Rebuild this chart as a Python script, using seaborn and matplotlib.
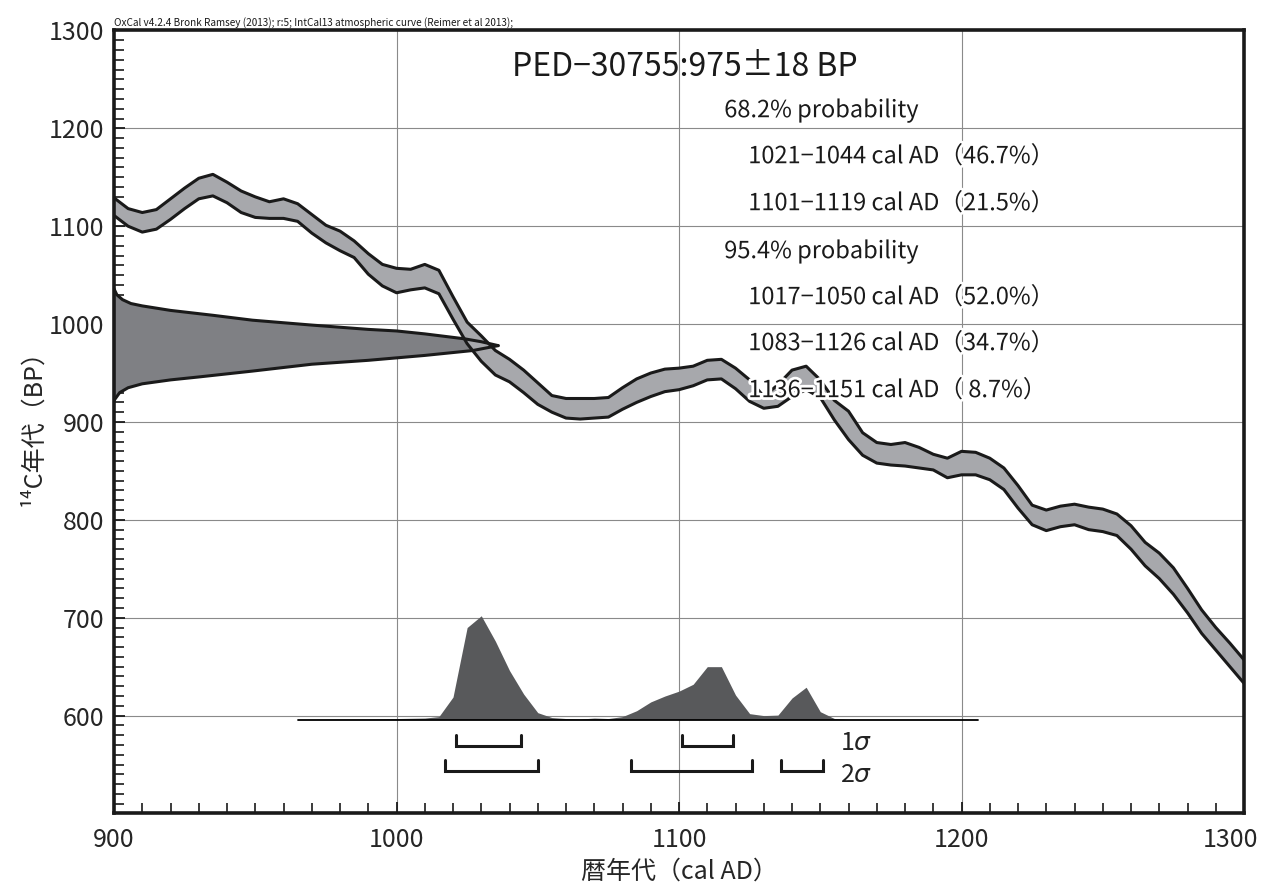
import matplotlib
matplotlib.use("Agg")
import matplotlib.pyplot as plt
import matplotlib.patheffects as pe
import matplotlib.transforms as mtransforms
from matplotlib.ticker import MultipleLocator
import seaborn as sns
import pandas as pd

# ---------------- data ----------------
cal_years = list(range(900, 1301, 5))
cal_upper = [1129, 1118, 1114, 1117, 1128, 1139, 1149, 1153, 1145, 1136,
             1130, 1125, 1128, 1123, 1112, 1101, 1095, 1085, 1072, 1061,
             1057, 1056, 1061, 1055, 1028, 1002, 988, 973, 964, 953,
             940, 927, 924, 924, 924, 925, 935, 944, 950, 954,
             955, 957, 963, 964, 955, 943, 926, 938, 953, 957,
             943, 922, 911, 889, 879, 877, 879, 874, 867, 863,
             870, 869, 863, 853, 835, 815, 810, 814, 816, 813,
             811, 806, 794, 777, 766, 751, 730, 708, 690, 674, 657]
cal_lower = [1111, 1100, 1094, 1097, 1107, 1118, 1128, 1131, 1124, 1114,
             1109, 1108, 1108, 1105, 1093, 1083, 1075, 1068, 1051, 1039,
             1032, 1035, 1037, 1031, 1005, 980, 962, 948, 941, 930,
             918, 910, 904, 903, 904, 905, 913, 920, 926, 931,
             933, 937, 943, 944, 934, 921, 914, 916, 926, 933,
             925, 902, 882, 866, 858, 856, 855, 853, 851, 843,
             846, 846, 841, 831, 812, 795, 789, 793, 795, 790,
             788, 784, 770, 753, 740, 724, 705, 684, 667, 650, 633]

# radiocarbon date distribution on the y axis (year reached, BP)
rc_upper_x = [900, 901, 903, 906, 910, 920, 935, 949, 970, 990, 1000, 1010, 1024, 1030, 1036]
rc_upper_y = [1036, 1030, 1025, 1021, 1018.6, 1014, 1009, 1004, 999, 994.6, 993, 990, 985, 982, 978]
rc_lower_x = [900, 902, 905, 910, 920, 930, 949, 970, 990, 1010, 1027, 1036]
rc_lower_y = [922, 930, 935, 939, 943, 946, 952, 959, 963, 968, 973, 978]

# calibrated distribution (height above its baseline, in BP units)
dist_baseline = 596
dist_years = [965, 990, 1000, 1010, 1015, 1020, 1025, 1030, 1035, 1040, 1045,
              1050, 1055, 1060, 1065, 1070, 1075, 1080, 1085, 1090, 1095,
              1100, 1105, 1110, 1115, 1120, 1125, 1130, 1135, 1140, 1145,
              1150, 1155, 1160, 1206]
dist_height = [0, 0.5, 1, 1.5, 3, 23, 94, 106, 80, 50, 26,
               7, 2, 1, 0.5, 1.5, 1, 3, 9, 18, 24,
               29, 36, 54, 54, 25, 6, 4, 4.5, 22, 33,
               8, 1, 0, 0]

sigma1_ranges = [(1021, 1044), (1101, 1119)]
sigma2_ranges = [(1017, 1050), (1083, 1126), (1136, 1151)]

title_text = "PED\u221230755:975\u00b118 BP"
prob_lines = ["68.2% probability",
              "1021\u22121044 cal AD\uff0846.7%\uff09",
              "1101\u22121119 cal AD\uff0821.5%\uff09",
              "95.4% probability",
              "1017\u22121050 cal AD\uff0852.0%\uff09",
              "1083\u22121126 cal AD\uff0834.7%\uff09",
              "1136\u22121151 cal AD\uff08 8.7%\uff09"]
prob_indent = [0, 1, 1, 0, 1, 1, 1]
header_text = "OxCal v4.2.4 Bronk Ramsey (2013); r:5; IntCal13 atmospheric curve (Reimer et al 2013);"
x_ticks = [900, 1000, 1100, 1200, 1300]
y_ticks = [600, 700, 800, 900, 1000, 1100, 1200, 1300]
x_label = "暦年代\uff08cal AD\uff09"
y_label = "\u00b9\u2074C年代\uff08BP\uff09"

# ---------------- styling ----------------
sns.set_theme(style="white")
FONT = ["Noto Sans CJK JP", "DejaVu Sans"]
plt.rcParams["font.family"] = FONT
plt.rcParams["axes.unicode_minus"] = False

band_color = "#a7a8ac"
rc_color = "#7f8084"
dist_color = "#58595b"
LW = 2.2

fig = plt.figure(figsize=(12.64, 8.91), dpi=100)
ax = fig.add_axes([0.0902, 0.087, 0.8940, 0.8788])

cal = pd.DataFrame({"year": cal_years, "upper": cal_upper, "lower": cal_lower})

# radiocarbon date (gaussian on y axis)
poly_x = rc_upper_x + rc_lower_x[::-1]
poly_y = rc_upper_y + rc_lower_y[::-1]
ax.fill(poly_x, poly_y, color=rc_color, zorder=2, lw=0)

# calibration band
ax.fill_between(cal["year"], cal["lower"], cal["upper"], color=band_color, zorder=3, lw=0)
sns.lineplot(data=cal, x="year", y="upper", ax=ax, color="#1a1a1a", lw=LW, zorder=4)
sns.lineplot(data=cal, x="year", y="lower", ax=ax, color="#1a1a1a", lw=LW, zorder=4)

rcu = pd.DataFrame({"x": rc_upper_x, "y": rc_upper_y})
rcl = pd.DataFrame({"x": rc_lower_x, "y": rc_lower_y})
sns.lineplot(data=rcu, x="x", y="y", ax=ax, color="#1a1a1a", lw=LW, zorder=5)
sns.lineplot(data=rcl, x="x", y="y", ax=ax, color="#1a1a1a", lw=LW, zorder=5)

# calibrated distribution
dist_top = [dist_baseline + h for h in dist_height]
ax.fill_between(dist_years, dist_baseline, dist_top, color=dist_color, lw=0, zorder=3)
ax.plot([dist_years[0], dist_years[-1]], [dist_baseline, dist_baseline],
        color="black", lw=1.3, zorder=4)

# sigma brackets
def bracket(rng, top, bottom):
    a, b = rng
    ax.plot([a, a, b, b], [top, bottom, bottom, top], color="#1a1a1a",
            lw=2.2, solid_joinstyle="miter", zorder=4)

for r in sigma1_ranges:
    bracket(r, 580, 569)
for r in sigma2_ranges:
    bracket(r, 555, 543)
ax.text(1157, 572, r"1$\sigma$", fontsize=18, va="center", ha="left", color="#222")
ax.text(1157, 539, r"2$\sigma$", fontsize=18, va="center", ha="left", color="#222")

# axes setup
ax.set_xlim(900, 1300)
ax.set_ylim(500, 1300)
ax.set_xticks(x_ticks)
ax.set_yticks(y_ticks)
ax.xaxis.set_minor_locator(MultipleLocator(10))
ax.yaxis.set_minor_locator(MultipleLocator(10))
ax.grid(True, which="major", color="#8a8a8a", lw=0.8, zorder=0)
ax.set_axisbelow(True)
ax.tick_params(axis="both", which="both", direction="in", color="#1a1a1a",
               top=False, right=False, left=True, bottom=True)
ax.tick_params(axis="both", which="major", length=8, width=1.3, labelsize=18)
ax.tick_params(axis="y", which="major", pad=7)
ax.tick_params(axis="x", which="major", pad=10)
ax.tick_params(axis="both", which="minor", length=7, width=1.2)
for s in ax.spines.values():
    s.set_visible(True)
    s.set_color("#1a1a1a")
    s.set_linewidth(2.6)
    s.set_zorder(10)

# keep the last x tick label inside the figure
fig.canvas.draw()
xl = ax.get_xticklabels()
shift = mtransforms.ScaledTranslation(-10 / 72, 0, fig.dpi_scale_trans)
xl[-1].set_transform(xl[-1].get_transform() + shift)

ax.set_xlabel(x_label, fontsize=18, labelpad=4)
ax.set_ylabel(y_label, fontsize=18, labelpad=2)

# texts
halo = [pe.withStroke(linewidth=4, foreground="white")]
ax.text(1102, 1263, title_text, fontsize=23, ha="center", va="center", color="#1a1a1a")
line_y = [1218, 1171, 1123, 1074, 1027, 980, 932]
for txt, ind, yy in zip(prob_lines, prob_indent, line_y):
    xx = 1116 if ind == 0 else 1124.5
    ax.text(xx, yy, txt, fontsize=17, ha="left", va="center", color="#1a1a1a",
            path_effects=halo, zorder=8)

ax.text(0.0, 1.003, header_text, transform=ax.transAxes, fontsize=7.2,
        ha="left", va="bottom", color="#1a1a1a")

fig.savefig("out.png", dpi=100)
